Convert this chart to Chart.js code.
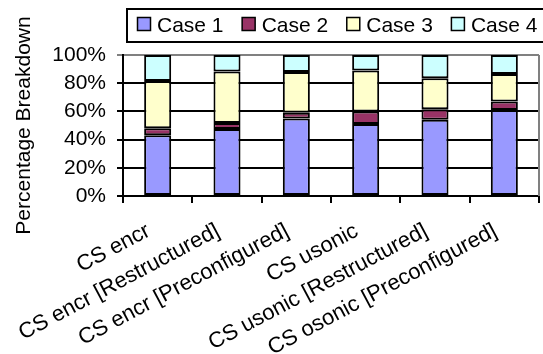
<!DOCTYPE html>
<html>
<head>
<meta charset="utf-8">
<script src="https://cdn.jsdelivr.net/npm/chart.js@4.4.0/dist/chart.umd.min.js"></script>
<style>
  html, body { margin: 0; padding: 0; background: #ffffff; }
  #wrap { width: 543px; height: 354px; }
</style>
</head>
<body>
<div id="wrap"><canvas id="chart" width="543" height="354"></canvas></div>
<script>
// Configurations on the x axis
const categories = [
  'CS encr',
  'CS encr [Restructured]',
  'CS encr [Preconfigured]',
  'CS usonic',
  'CS usonic [Restructured]',
  'CS osonic [Preconfigured]'
];

// Share of each case, in percent of the total
const case1 = [43.0, 47.5, 55.0, 51.0, 54.0, 61.0];
const case2 = [ 5.0,  4.2,  4.0,  9.0,  7.5,  6.0];
const case3 = [33.5, 36.6, 29.0, 29.0, 22.0, 19.5];
const case4 = [18.5, 11.7, 12.0, 11.0, 16.5, 13.5];

const seriesNames = ['Case 1', 'Case 2', 'Case 3', 'Case 4'];
const seriesColors = ['#9999FF', '#993366', '#FFFFCC', '#CCFFFF'];

// Value axis ticks
const yTicks = [0, 20, 40, 60, 80, 100];

const FONT = "'Liberation Sans', Arial, Helvetica, sans-serif";
const FONT_SIZE = 21;

// Boxed legend across the top of the chart
const boxedLegend = {
  id: 'boxedLegend',
  afterDraw(chart) {
    const ctx = chart.ctx;
    ctx.save();
    ctx.strokeStyle = '#000000';
    ctx.lineWidth = 2;
    ctx.strokeRect(127, 9, 440, 33);

    ctx.font = FONT_SIZE + 'px ' + FONT;
    ctx.textBaseline = 'alphabetic';
    ctx.textAlign = 'left';
    let x = 137.5;
    chart.data.datasets.forEach(ds => {
      ctx.fillStyle = ds.backgroundColor;
      ctx.fillRect(x, 17.5, 13, 13);
      ctx.lineWidth = 1.5;
      ctx.strokeStyle = '#000000';
      ctx.strokeRect(x, 17.5, 13, 13);
      ctx.fillStyle = '#000000';
      ctx.fillText(ds.label, x + 19.5, 31.5);
      x += 19.5 + ctx.measureText(ds.label).width + 18.6;
    });
    ctx.restore();
  }
};

// Grey frame line on the right of the plot area
const plotFrame = {
  id: 'plotFrame',
  afterDraw(chart) {
    const a = chart.chartArea;
    const ctx = chart.ctx;
    ctx.save();
    ctx.strokeStyle = '#808080';
    ctx.lineWidth = 2;
    ctx.beginPath();
    ctx.moveTo(a.right, a.top);
    ctx.lineTo(a.right, a.bottom);
    ctx.stroke();
    ctx.restore();
  }
};

const values = [case1, case2, case3, case4];

new Chart(document.getElementById('chart'), {
  type: 'bar',
  data: {
    labels: categories,
    datasets: seriesNames.map((name, i) => ({
      label: name,
      data: values[i],
      backgroundColor: seriesColors[i],
      borderColor: '#000000',
      borderWidth: 2,
      borderSkipped: false,
      barPercentage: 0.39,
      categoryPercentage: 1.0
    }))
  },
  options: {
    responsive: false,
    devicePixelRatio: 1,
    animation: false,
    layout: { padding: { top: 55, right: 4, bottom: 0, left: 0 } },
    plugins: {
      legend: { display: false },
      tooltip: { enabled: false }
    },
    scales: {
      x: {
        stacked: true,
        offset: true,
        grid: {
          offset: true,
          drawOnChartArea: false,
          drawTicks: true,
          tickLength: 7,
          color: '#000000',
          lineWidth: 2
        },
        border: { color: '#000000', width: 2 },
        ticks: {
          color: '#000000',
          font: { family: FONT, size: 22 },
          minRotation: 28,
          maxRotation: 28,
          autoSkip: false,
          padding: 15,
          labelOffset: -9
        },
        afterFit(scale) { scale.height = 158; }
      },
      y: {
        stacked: true,
        min: 0,
        max: 100,
        afterBuildTicks(scale) { scale.ticks = yTicks.map(v => ({ value: v })); },
        grid: {
          color: c => (c.tick && c.tick.value === 100 ? '#808080' : '#000000'),
          lineWidth: 2,
          tickLength: 6,
          drawTicks: true
        },
        border: { color: '#000000', width: 2 },
        ticks: {
          color: '#000000',
          font: { family: FONT, size: FONT_SIZE },
          padding: 11,
          callback: v => v + '%'
        },
        title: {
          display: true,
          text: 'Percentage Breakdown',
          color: '#000000',
          font: { family: FONT, size: FONT_SIZE },
          padding: { top: 12, bottom: 0 }
        },
        afterFit(scale) { scale.width = 123; }
      }
    }
  },
  plugins: [boxedLegend, plotFrame]
});
</script>
</body>
</html>
